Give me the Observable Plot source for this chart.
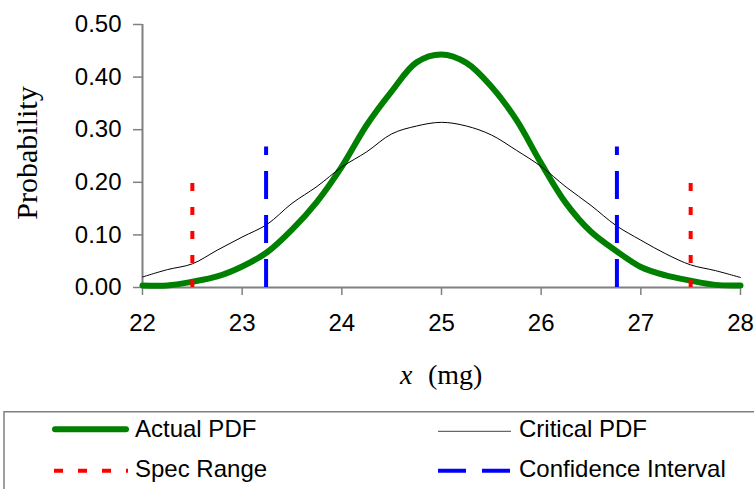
<!DOCTYPE html>
<html>
<head>
<meta charset="utf-8">
<script src="https://cdn.jsdelivr.net/npm/d3@7"></script>
<script src="https://cdn.jsdelivr.net/npm/@observablehq/plot@0.6"></script>
<style>
  html, body { margin: 0; padding: 0; background: #fff; width: 754px; height: 489px; overflow: hidden; }
  #wrap { position: relative; width: 754px; height: 489px; }
  #legend { position: absolute; left: 0; top: 411px; }
</style>
</head>
<body>
<div id="wrap">
  <div id="chart"></div>
  <svg id="legend" width="754" height="78" font-family="Liberation Sans, Arial, sans-serif" font-size="24"></svg>
</div>
<script>
// ---- data ----
const xs = [22, 22.25, 22.5, 22.75, 23, 23.25, 23.5, 23.75, 24, 24.25, 24.5, 24.75, 25,
            25.25, 25.5, 25.75, 26, 26.25, 26.5, 26.75, 27, 27.25, 27.5, 27.75, 28];
const actualPdf = [0.004, 0.004, 0.011, 0.021, 0.040, 0.067, 0.110, 0.163, 0.230, 0.309, 0.373, 0.428, 0.443,
                   0.427, 0.382, 0.319, 0.236, 0.160, 0.106, 0.070, 0.039, 0.023, 0.013, 0.005, 0.004];
const criticalPdf = [0.020, 0.034, 0.045, 0.071, 0.096, 0.120, 0.160, 0.192, 0.229, 0.258, 0.292, 0.307, 0.314,
                     0.307, 0.290, 0.261, 0.230, 0.191, 0.156, 0.118, 0.090, 0.064, 0.043, 0.032, 0.019];
const specRange = [22.5, 27.5];
const specHeight = 0.20;
const confidenceInterval = [23.24, 26.76];
const ciHeight = 0.267;
const xTicks = [22, 23, 24, 25, 26, 27, 28];
const yTicks = [0, 0.1, 0.2, 0.3, 0.4, 0.5];
const legendLabels = ["Actual PDF", "Critical PDF", "Spec Range", "Confidence Interval"];

const actual = xs.map((x, i) => ({x, y: actualPdf[i]}));
const critical = xs.map((x, i) => ({x, y: criticalPdf[i]}));

const chart = Plot.plot({
  width: 754,
  height: 411,
  marginLeft: 142,
  marginRight: 14,
  marginTop: 24,
  marginBottom: 124,
  x: {domain: [xTicks[0], xTicks[xTicks.length - 1]]},
  y: {domain: [yTicks[0], yTicks[yTicks.length - 1]]},
  style: {fontFamily: "Liberation Sans, Arial, sans-serif", background: "white", overflow: "visible", color: "black"},
  marks: [
    Plot.axisY(yTicks, {tickFormat: d => d.toFixed(2), tickSize: 9, tickPadding: 12, fontSize: 24,
                        stroke: "#808080", strokeWidth: 1.5, fill: "black", label: null}),
    Plot.axisX(xTicks, {tickFormat: d => String(d), tickSize: 8, tickPadding: 18, fontSize: 24,
                        stroke: "#808080", strokeWidth: 1.5, fill: "black", label: null}),
    Plot.ruleX([xTicks[0]], {y1: yTicks[0], y2: yTicks[yTicks.length - 1], stroke: "#808080", strokeWidth: 2}),
    Plot.ruleY([yTicks[0]], {x1: xTicks[0], x2: xTicks[xTicks.length - 1], stroke: "#808080", strokeWidth: 2}),
    Plot.line(actual, {x: "x", y: "y", stroke: "#008000", strokeWidth: 6, curve: "catmull-rom"}),
    Plot.line(critical, {x: "x", y: "y", stroke: "#000000", strokeWidth: 1, curve: "catmull-rom"}),
    Plot.ruleX(specRange, {y1: 0, y2: specHeight, stroke: "#ff0000", strokeWidth: 4, strokeDasharray: "8,16", strokeLinecap: "butt"}),
    Plot.ruleX(confidenceInterval, {y1: 0, y2: ciHeight, stroke: "#0000ff", strokeWidth: 4, strokeDasharray: "28,16", strokeLinecap: "butt"})
  ]
});
document.getElementById("chart").appendChild(chart);

const svg = d3.select(chart);
svg.append("text")
  .attr("transform", "translate(37,153) rotate(-90)")
  .attr("text-anchor", "middle")
  .attr("font-family", "Liberation Serif, Times New Roman, serif")
  .attr("font-size", 30)
  .attr("fill", "black")
  .text("Probability");
const xt = svg.append("text")
  .attr("x", 400).attr("y", 384)
  .attr("text-anchor", "start")
  .attr("font-family", "Liberation Serif, Times New Roman, serif")
  .attr("font-size", 28)
  .attr("fill", "black");
xt.append("tspan").attr("font-style", "italic").text("x");
xt.append("tspan").attr("x", 428).text("(mg)");

// ---- legend ----
const lg = d3.select("#legend");
lg.append("rect").attr("x", 4).attr("y", 0.75).attr("width", 800).attr("height", 120)
  .attr("fill", "white").attr("stroke", "#808080").attr("stroke-width", 1.5);
lg.append("line").attr("x1", 55).attr("x2", 126).attr("y1", 18.3).attr("y2", 18.3)
  .attr("stroke", "#008000").attr("stroke-width", 6).attr("stroke-linecap", "round");
lg.append("line").attr("x1", 438).attr("x2", 511).attr("y1", 20.3).attr("y2", 20.3)
  .attr("stroke", "#444").attr("stroke-width", 1);
lg.append("line").attr("x1", 54).attr("x2", 128).attr("y1", 59.7).attr("y2", 59.7)
  .attr("stroke", "#ff0000").attr("stroke-width", 4).attr("stroke-dasharray", "9,15");
lg.append("line").attr("x1", 438).attr("x2", 511).attr("y1", 59.7).attr("y2", 59.7)
  .attr("stroke", "#0000ff").attr("stroke-width", 4).attr("stroke-dasharray", "28,16");
const pos = [[135, 25.7], [519, 25.7], [135, 66.3], [519, 66.3]];
legendLabels.forEach((t, i) => {
  lg.append("text").attr("x", pos[i][0]).attr("y", pos[i][1]).attr("fill", "black").text(t);
});
</script>
</body>
</html>
